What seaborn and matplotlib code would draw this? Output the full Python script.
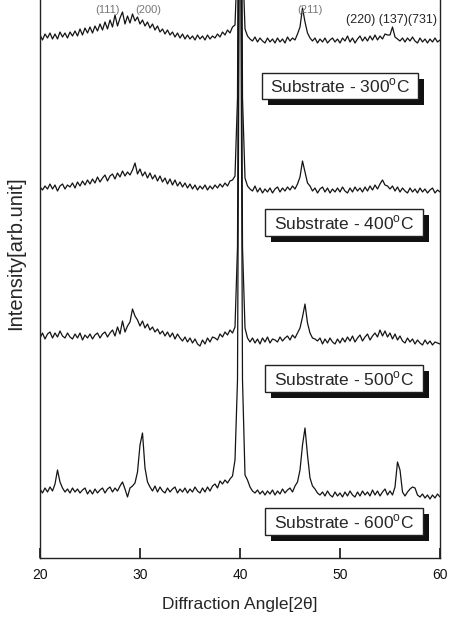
import numpy as np
import pandas as pd
import matplotlib
matplotlib.use("Agg")
import matplotlib.pyplot as plt
from matplotlib.patches import Rectangle
import seaborn as sns

# sampling positions (2-theta) and the four traces
angles = np.arange(20.0, 60.01, 0.25)
temps = ["300", "400", "500", "600"]
offsets = [521, 370, 221, 68]

int_300 = [2, -3, 3, -1, 4, -2, 3, -2, 5, 0,
           4, -1, 5, 1, 6, 1, 8, 2, 9, 4,
           10, 4, 11, 6, 13, 7, 15, 8, 17, 10,
           22, 11, 19, 25, 13, 21, 14, 23, 16, 20,
           13, 17, 11, 15, 9, 13, 7, 11, 5, 8,
           3, 7, 2, 5, 0, 4, -1, 3, -2, 2,
           -2, 1, -3, 2, -2, 1, -3, 2, -2, 1,
           -1, 3, 0, 5, 2, 7, 4, 10, 12, 80,
           700, 80, 8, 1, -2, -4, 0, -5, -1, -4,
           -6, -1, -5, -2, -6, -1, -5, -2, -6, 0,
           -4, -1, -3, 3, 10, 29, 15, 4, -1, -4,
           -1, -6, -2, -5, -1, -6, -3, -1, -5, -2,
           -6, -1, -4, 1, -5, -1, -6, -2, 1, -4,
           0, -4, 1, -3, 2, -3, 1, -2, 3, 2,
           2, 10, 0, -2, -4, -1, -5, -1, -4, 0,
           -4, -6, -1, -5, -2, -6, -2, -5, -1, -5,
           -3]

int_400 = [1, -2, 2, -1, 4, -1, 3, -3, 2, 4,
           -1, 3, 1, 5, 0, 6, 2, 7, 3, 8,
           4, 9, 5, 11, 6, 10, 13, 7, 12, 14,
           9, 15, 11, 17, 12, 16, 13, 18, 25, 14,
           19, 12, 16, 10, 15, 9, 13, 7, 12, 6,
           10, 4, 9, 3, 8, 2, 6, 1, 5, 0,
           4, -1, 3, -2, 2, -1, 3, -2, 2, -1,
           3, 0, 4, 1, 5, 2, 7, 8, 12, 90,
           700, 90, 10, 2, -1, -3, 2, -4, 0, -5,
           -1, -4, 0, -5, -1, 1, -4, 0, -3, 1,
           -2, 2, -1, 4, 11, 27, 16, 5, 2, -3,
           0, -5, -1, 1, -4, 0, -5, -1, -4, 0,
           -4, 1, -3, -5, 0, -4, 1, -3, 0, -4,
           1, -3, 2, -2, 3, -1, 4, 8, 3, 2,
           -1, 2, -3, 1, -4, 0, -3, -5, 0, -4,
           -1, -5, 0, -4, -1, -5, -2, 0, -5, -2,
           -4]

int_500 = [-1, 4, -2, 3, 5, -1, 4, 0, 6, 1,
           -1, 4, 0, -2, 3, -1, 4, -3, 2, -1,
           3, -2, 2, 4, -1, 3, 5, 0, 4, 7,
           1, 10, 3, 16, 5, 11, 15, 28, 21, 17,
           11, 16, 9, 13, 7, 10, 5, 8, 3, 6,
           1, 5, 0, 4, -2, 3, -1, -4, 0, -5,
           -1, -6, -2, -7, -9, -3, -7, -1, -5, 0,
           -1, -3, 3, 0, 5, 2, 7, 4, 10, 90,
           700, 90, 9, -1, -5, -1, -6, -2, -7, -1,
           -5, 0, -6, -2, -3, -5, 0, -4, -1, 1,
           -3, 2, -1, 4, 9, 20, 33, 14, 4, -1,
           -2, -4, -1, -7, -2, -6, -1, -5, -7, -2,
           -6, -1, -5, 0, -4, 1, -5, -1, 2, -4,
           0, 3, -3, 1, 4, 0, 7, 1, 6, 0,
           4, -2, 3, -3, 1, -4, -6, -1, -5, -2,
           -7, -3, -6, -8, -3, -7, -4, -8, -5, -6,
           -7]

int_600 = [1, -3, 2, -2, 3, -1, 6, 20, 8, 2,
           -2, 1, -3, 2, -2, 1, -3, 0, 2, -4,
           0, -4, 1, -3, 0, 2, -3, 1, 3, -2,
           2, -1, 4, 8, 1, -7, 2, 4, 7, 18,
           45, 57, 22, 8, 3, -1, 4, -2, 3, -1,
           -3, 2, -2, 1, 3, -3, 1, -2, 2, -3,
           1, -2, 3, -1, -3, 2, -2, 3, -1, 4,
           6, 2, 9, 6, 10, 7, 11, 14, 30, 110,
           700, 110, 15, 10, 3, -1, -3, 0, -4, -1,
           -5, -1, -4, 0, -5, -1, -4, 1, -3, 0,
           2, -2, 4, 8, 20, 45, 62, 35, 12, 4,
           1, -3, -5, -2, -6, -1, -5, -7, -2, -6,
           -3, -7, -2, -6, -1, -5, -7, -2, -6, -1,
           -5, -2, -6, 0, -5, -1, -6, -2, 1, -5,
           -1, -5, 3, 28, 20, -2, -6, -2, 1, 3,
           2, -5, -7, -4, -8, -5, -9, -5, -8, -4,
           -7]

peak_labels = ["(220) (137)(731)"]
faint_labels = ["(111)", "(200)", "(211)"]
faint_angles = [26.8, 30.8, 47.0]

# build a long table: each trace shifted by its offset
frames = []
for t, off, vals in zip(temps, offsets, [int_300, int_400, int_500, int_600]):
    frames.append(pd.DataFrame({"angle": angles,
                                "y": off + np.array(vals, dtype=float),
                                "temp": t}))
df = pd.concat(frames, ignore_index=True)

sns.set_style("white")
plt.rcParams["font.family"] = ["Liberation Sans", "DejaVu Sans"]
plt.rcParams["mathtext.fontset"] = "custom"
plt.rcParams["mathtext.rm"] = "Liberation Sans"

fig = plt.figure(figsize=(4.49, 6.2), dpi=100)
ax = fig.add_axes([40 / 449, 62 / 620, 400 / 449, 558 / 620])

sns.lineplot(data=df, x="angle", y="y", units="temp", estimator=None,
             color="#141414", linewidth=0.9, legend=False, ax=ax)

ax.set_xlim(20, 60)
ax.set_ylim(0, 558)
ax.set_yticks([])
ax.set_xticks([20, 30, 40, 50, 60])
ax.tick_params(axis="x", bottom=True, direction="in", length=7, width=1.2,
               pad=7, labelsize=10, colors="#111111")
ax.set_xlabel("")
ax.set_ylabel("")
for side in ["left", "right", "bottom"]:
    ax.spines[side].set_color("#222222")
    ax.spines[side].set_linewidth(1.0)
ax.spines["top"].set_visible(False)

# boxed labels with a drop shadow (layout in axis units)
boxes = [(42.2, 57.8, 459, 485), (42.5, 58.3, 322, 349),
         (42.5, 58.3, 166, 193), (42.5, 58.3, 23, 50)]
for t, (x0, x1, y0, y1) in zip(temps, boxes):
    ax.add_patch(Rectangle((x0 + 0.6, y0 - 6), x1 - x0, y1 - y0,
                           facecolor="#111111", edgecolor="none", zorder=4))
    ax.add_patch(Rectangle((x0, y0), x1 - x0, y1 - y0, facecolor="white",
                           edgecolor="#222222", linewidth=1.0, zorder=5))
    ax.text((x0 + x1) / 2, (y0 + y1) / 2,
            "Substrate - " + t + r"$^{\mathrm{o}}$C",
            ha="center", va="center", fontsize=12.5, zorder=6)

ax.text(59.7, 538, peak_labels[0], ha="right", va="center", fontsize=9)
# faint labels at the top edge of the scan
for x, s in zip(faint_angles, faint_labels):
    ax.text(x, 543, s, ha="center", va="bottom", fontsize=8,
            color="#777777")

fig.text(240 / 449, 1 - 604 / 620, "Diffraction Angle[2\u03b8]",
         ha="center", va="center", fontsize=12.5)
fig.text(16 / 449, 1 - 253 / 620, "Intensity[arb.unit]", rotation=90,
         ha="center", va="center", fontsize=14.5)

fig.savefig("out.png", dpi=100)
